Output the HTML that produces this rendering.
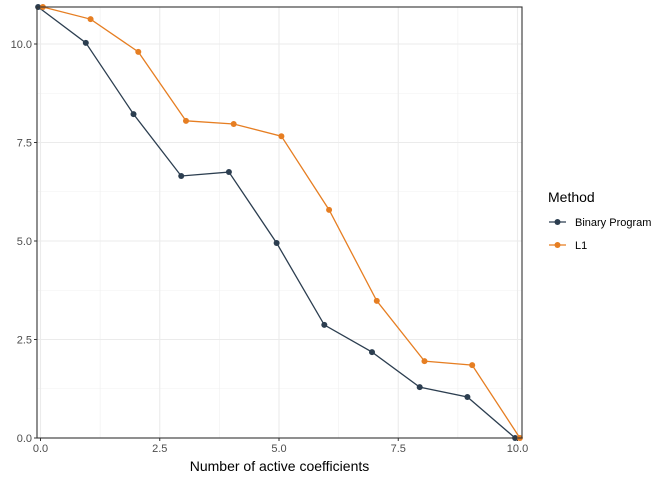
<!DOCTYPE html>
<html><head><meta charset="utf-8"><style>
body{margin:0;background:#fff;}
svg{display:block;font-family:"Liberation Sans",sans-serif;}
</style></head><body>
<svg id="chart" width="672" height="480"></svg>
<script>
const xValues=[0,1,2,3,4,5,6,7,8,9,10];
const binaryValues=[10.94,10.03,8.22,6.65,6.75,4.95,2.87,2.18,1.29,1.04,0];
const l1Values=[10.94,10.63,9.80,8.05,7.97,7.66,5.79,3.48,1.95,1.85,0];
const xTicks=[0,2.5,5,7.5,10];
const xTickLabels=["0.0","2.5","5.0","7.5","10.0"];
const yTicks=[0,2.5,5,7.5,10];
const yTickLabels=["0.0","2.5","5.0","7.5","10.0"];
const seriesNames=["Binary Program","L1"];

const NS="http://www.w3.org/2000/svg";
const svg=document.getElementById('chart');
const L=37,R=522,T=7,B=438;
const xs=v=>40.5+v*47.7;
const ys=v=>438-v*39.4;
function el(tag,attrs,parent){const e=document.createElementNS(NS,tag);for(const k in attrs)e.setAttribute(k,attrs[k]);(parent||svg).appendChild(e);return e;}
const panel=el('rect',{x:L,y:T,width:R-L,height:B-T,fill:'#fff'});


// minor grid
for(let i=0;i<xTicks.length-1;i++){const v=(xTicks[i]+xTicks[i+1])/2;
 const g=el('line',{x1:xs(v),x2:xs(v),y1:T,y2:B,stroke:'#f0f0f0','stroke-width':0.6});
 
 }
for(let i=0;i<yTicks.length-1;i++){const v=(yTicks[i]+yTicks[i+1])/2;
 const g=el('line',{x1:L,x2:R,y1:ys(v),y2:ys(v),stroke:'#f0f0f0','stroke-width':0.6});
 
 }
xTicks.forEach((v,i)=>{
 const g=el('line',{x1:xs(v),x2:xs(v),y1:T,y2:B,stroke:'#ebebeb','stroke-width':1.1});
 
 
 el('line',{x1:xs(v),x2:xs(v),y1:B,y2:B+3,stroke:'#333','stroke-width':1});
 const t=el('text',{x:xs(v),y:B+14,'text-anchor':'middle','font-size':11,fill:'#4d4d4d'});t.textContent=xTickLabels[i];
 
 
});
yTicks.forEach((v,i)=>{
 const g=el('line',{x1:L,x2:R,y1:ys(v),y2:ys(v),stroke:'#ebebeb','stroke-width':1.1});
 
 
 el('line',{x1:L-3,x2:L,y1:ys(v),y2:ys(v),stroke:'#333','stroke-width':1});
 const t=el('text',{x:L-5,y:ys(v)+4,'text-anchor':'end','font-size':11,fill:'#4d4d4d'});t.textContent=yTickLabels[i];
 
 
});
const colors=['#2c3e50','#e67e22'];
const dodge=[-0.05,0.05];
[binaryValues,l1Values].forEach((vals,si)=>{
 const pts=vals.map((v,i)=>[xs(xValues[i]+dodge[si]),ys(v)]);
 const p=el('polyline',{points:pts.map(p=>p.join(',')).join(' '),fill:'none',stroke:colors[si],'stroke-width':1.3});
 
 
 pts.forEach(q=>{const c=el('circle',{cx:q[0],cy:q[1],r:3,fill:colors[si]});
  
  });
});
const border=el('rect',{x:L,y:T,width:R-L,height:B-T,fill:'none',stroke:'#333','stroke-width':1.1});


const xt=el('text',{x:(L+R)/2,y:471,'text-anchor':'middle','font-size':14,fill:'#000'});xt.textContent='Number of active coefficients';


const lt=el('text',{x:548,y:202,'font-size':14,fill:'#000'});lt.textContent='Method';


seriesNames.forEach((n,i)=>{
 const y=222+i*23;
 const g=el('g',{});
 
 
 el('line',{x1:549,x2:566,y1:y,y2:y,stroke:colors[i],'stroke-width':1.3},g);
 el('circle',{cx:557.5,cy:y,r:3,fill:colors[i]},g);
 const t=el('text',{x:575,y:y+4,'font-size':11,fill:'#000'},g);t.textContent=n;
});
</script>
</body></html>
